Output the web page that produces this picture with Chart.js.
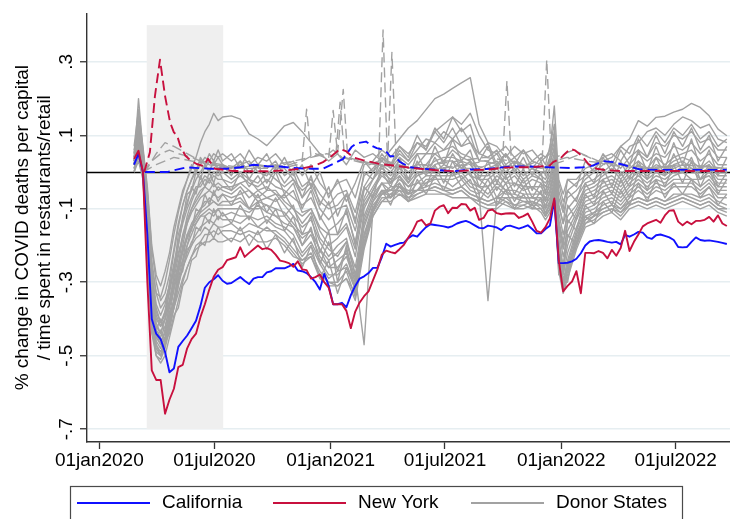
<!DOCTYPE html>
<html>
<head>
<meta charset="utf-8">
<script src="https://cdn.jsdelivr.net/npm/chart.js@4.4.1/dist/chart.umd.min.js"></script>
<style>
  html, body { margin: 0; padding: 0; background: #ffffff; }
  #wrap { width: 730px; height: 519px; }
</style>
</head>
<body>
<div id="wrap"><canvas id="chart" width="730" height="519"></canvas></div>
<script>
// ---------------------------------------------------------------
// Data: % change in COVID deaths per capita and time spent in
// restaurants/retail, California and New York vs. donor states.
// All x values are days since 01jan2020.
// ---------------------------------------------------------------

const californiaName = 'California';
const newYorkName = 'New York';
const donorName = 'Donor States';

// weekly series for the two treated states start on this date
const weeklyStart = '2020-02-25';

const californiaRetail = [
  0.02, 0.05, 0.0, -0.17, -0.40, -0.44, -0.455, -0.49, -0.545, -0.535,
  -0.476, -0.46, -0.445, -0.425, -0.405, -0.365, -0.315, -0.30, -0.292, -0.281,
  -0.296, -0.304, -0.302, -0.294, -0.286, -0.296, -0.305, -0.29, -0.286, -0.286,
  -0.273, -0.27, -0.262, -0.262, -0.262, -0.257, -0.25, -0.268, -0.27, -0.275,
  -0.286, -0.30, -0.32, -0.277, -0.31, -0.36, -0.36, -0.356, -0.368, -0.335,
  -0.31, -0.29, -0.284, -0.275, -0.261, -0.261, -0.232, -0.195, -0.203, -0.198,
  -0.194, -0.192, -0.18, -0.172, -0.176, -0.162, -0.15, -0.142, -0.144, -0.146,
  -0.148, -0.151, -0.147, -0.14, -0.136, -0.133, -0.138, -0.145, -0.152, -0.153,
  -0.146, -0.148, -0.151, -0.158, -0.148, -0.146, -0.15, -0.154, -0.15, -0.145,
  -0.155, -0.167, -0.167, -0.155, -0.146, -0.077, -0.248, -0.248, -0.247, -0.243,
  -0.236, -0.221, -0.2, -0.189, -0.186, -0.185, -0.187, -0.19, -0.192, -0.19,
  -0.197, -0.171, -0.176, -0.17, -0.163, -0.165, -0.178, -0.182, -0.172, -0.17,
  -0.174, -0.178, -0.185, -0.204, -0.205, -0.204, -0.19, -0.178, -0.185, -0.187,
  -0.186, -0.188, -0.19, -0.193, -0.196
];

const newYorkRetail = [
  0.036, 0.058, 0.0, -0.30, -0.54, -0.566, -0.566, -0.658, -0.62, -0.59,
  -0.531, -0.525, -0.48, -0.455, -0.44, -0.395, -0.36, -0.32, -0.285, -0.266,
  -0.259, -0.24, -0.236, -0.232, -0.205, -0.231, -0.22, -0.21, -0.2, -0.21,
  -0.207, -0.212, -0.225, -0.241, -0.244, -0.248, -0.258, -0.243, -0.265, -0.267,
  -0.29, -0.286, -0.279, -0.30, -0.315, -0.36, -0.36, -0.36, -0.378, -0.425,
  -0.38, -0.355, -0.338, -0.325, -0.295, -0.265, -0.225, -0.214, -0.218, -0.221,
  -0.21, -0.198, -0.178, -0.16, -0.135, -0.13, -0.145, -0.14, -0.105, -0.095,
  -0.09, -0.112, -0.097, -0.098, -0.087, -0.088, -0.105, -0.097, -0.13, -0.125,
  -0.105, -0.102, -0.112, -0.115, -0.113, -0.112, -0.113, -0.125, -0.12, -0.113,
  -0.135, -0.16, -0.165, -0.15, -0.126, -0.072, -0.24, -0.325, -0.31, -0.298,
  -0.27, -0.33, -0.22, -0.22, -0.221, -0.215, -0.22, -0.235, -0.212, -0.228,
  -0.207, -0.16, -0.215, -0.19, -0.17, -0.148, -0.14, -0.135, -0.13, -0.138,
  -0.118, -0.105, -0.104, -0.135, -0.145, -0.135, -0.142, -0.133, -0.133, -0.13,
  -0.122, -0.135, -0.118, -0.14, -0.147
];

// deaths per capita (dashed)
const californiaDeathDays = [
  72, 107, 138, 175, 202, 223, 244, 265, 286, 307,
  336, 354, 370, 386, 399, 407, 422, 431, 439, 449,
  455, 460, 468, 476, 492, 513, 539, 560, 587, 618,
  650, 681, 713, 745, 766, 782, 797, 813, 829, 845,
  856, 882, 993
];
const californiaDeaths = [
  0, 0, 0.013, 0.009, 0.009, 0.013, 0.02, 0.016, 0.015, 0.011,
  0.009, 0.009, 0.022, 0.036, 0.068, 0.078, 0.083, 0.072, 0.065, 0.061,
  0.054, 0.043, 0.043, 0.027, 0.013, 0.009, 0.005, 0.002, 0.007, 0.009,
  0.015, 0.015, 0.013, 0.011, 0.013, 0.018, 0.03, 0.027, 0.02, 0.012,
  0.007, 0.006, 0.006
];

const newYorkDeathDays = [
  71, 80, 88, 96, 104, 112, 118, 123, 128, 136,
  144, 154, 165, 172, 183, 212, 238, 265, 297, 318,
  339, 354, 365, 381, 391, 402, 418, 444, 465, 486,
  507, 534, 566, 587, 618, 639, 660, 681, 703, 713,
  718, 729, 734, 745, 753, 763, 774, 787, 803, 824,
  993
];
const newYorkDeaths = [
  0, 0.054, 0.207, 0.306, 0.207, 0.135, 0.108, 0.1, 0.072, 0.045,
  0.032, 0.022, 0.016, 0.036, 0.009, 0.003, 0.002, 0.002, 0.005, 0.009,
  0.016, 0.027, 0.04, 0.063, 0.056, 0.04, 0.032, 0.022, 0.018, 0.013,
  0.009, 0.005, 0.002, 0.005, 0.007, 0.012, 0.013, 0.013, 0.016, 0.018,
  0.027, 0.036, 0.045, 0.063, 0.059, 0.045, 0.022, 0.009, 0.005, 0.003,
  0.003
];

// donor-state retail series share one date grid:
// [first date, step in days, number of points]
const donorDateSegments = [
  ['2020-02-25', 7, 21],
  ['2020-07-28', 14, 36],
  ['2021-12-07', 7, 6],
  ['2022-01-25', 14, 18]
];

const donorRetail = [
  [0.05, 0.14, 0.04, -0.08, -0.26, -0.33, -0.34, -0.30, -0.24, -0.17, -0.11, -0.06, -0.02, 0.01, 0.04, 0.08, 0.11, 0.13, 0.16, 0.14, 0.15,
   0.153, 0.144, 0.104, 0.09, 0.072, 0.099, 0.126, 0.135, 0.11, 0.08, 0.05, 0.03, 0.05, 0.02, 0.06, 0.04, 0.05, 0.03, 0.06, 0.09, 0.12, 0.14, 0.17, 0.2, 0.212, 0.228, 0.243, 0.257, 0.13, 0.08, 0.07, 0.04, 0.07, 0.05, 0.06, 0.03,
   0.04, 0.05, 0.11, -0.03, -0.08, -0.05,
   -0.03, -0.01, 0.01, 0.03, 0.04, 0.07, 0.09, 0.14, 0.125, 0.149, 0.152, 0.163, 0.171, 0.187, 0.176, 0.153, 0.117, 0.099],
  [0.03, 0.20, 0.06, -0.05, -0.21, -0.30, -0.35, -0.33, -0.28, -0.21, -0.14, -0.09, -0.05, -0.02, 0.01, 0.02, 0.04, 0.03, 0.05, 0.04, 0.05,
   0.03, 0.05, 0.02, 0.04, 0.03, 0.05, 0.02, 0.03, -0.01, 0.02, -0.03, -0.06, -0.03, -0.02, -0.07, 0.02, 0.03, 0.06, 0.04, 0.07, 0.05, 0.08, 0.07, 0.11, 0.13, 0.15, 0.13, 0.16, 0.1, 0.06, 0.05, 0.07, 0.04, 0.06, 0.03, 0.05,
   0.04, 0.06, 0.18, -0.02, -0.06, -0.02,
   -0.02, 0.01, 0.02, 0.04, 0.05, 0.03, 0.07, 0.08, 0.11, 0.12, 0.1, 0.13, 0.15, 0.14, 0.12, 0.13, 0.09, 0.08],
  [0.02, 0.10, 0.03, -0.12, -0.30, -0.40, -0.42, -0.38, -0.30, -0.22, -0.15, -0.09, -0.05, -0.02, 0.0, 0.02, 0.01, 0.03, 0.02, 0.04, 0.02,
   0.01, 0.03, 0.0, 0.02, 0.01, 0.03, -0.01, 0.01, -0.04, -0.02, -0.06, -0.09, -0.06, -0.05, -0.11, -0.01, 0.01, 0.04, 0.02, 0.05, 0.03, 0.06, 0.09, 0.08, 0.11, 0.09, 0.12, 0.08, 0.05, 0.04, 0.06, 0.02, 0.04, 0.01, 0.03, 0.02,
   0.01, 0.04, 0.08, -0.07, -0.11, -0.07,
   -0.05, -0.02, 0.0, 0.02, 0.03, 0.01, 0.04, 0.06, 0.04, 0.08, 0.07, 0.1, 0.09, 0.11, 0.08, 0.09, 0.06, 0.06],
  [0.04, 0.07, 0.01, -0.15, -0.35, -0.44, -0.47, -0.43, -0.36, -0.28, -0.20, -0.13, -0.08, -0.05, -0.02, 0.0, 0.02, 0.0, 0.03, 0.01, 0.02,
   0.0, 0.02, 0.03, 0.0, -0.01, 0.02, 0.01, -0.02, -0.05, -0.03, -0.08, -0.1, -0.09, -0.06, -0.13, -0.04, 0.0, 0.03, 0.01, 0.04, 0.02, 0.05, 0.05, 0.08, 0.06, 0.09, 0.07, 0.08, 0.03, 0.03, 0.05, 0.01, 0.03, 0.02, 0.01, 0.0,
   0.0, 0.03, 0.06, -0.09, -0.14, -0.1,
   -0.07, -0.03, -0.02, 0.0, 0.02, -0.01, 0.02, 0.05, 0.03, 0.05, 0.04, 0.07, 0.06, 0.08, 0.05, 0.07, 0.04, 0.04],
  [0.01, 0.06, 0.02, -0.18, -0.38, -0.46, -0.48, -0.45, -0.39, -0.32, -0.25, -0.18, -0.12, -0.08, -0.05, -0.03, -0.01, -0.02, 0.0, -0.01, 0.0,
   -0.02, 0.0, -0.02, -0.03, 0.0, -0.02, -0.04, -0.02, -0.07, -0.04, -0.1, -0.13, -0.1, -0.09, -0.16, -0.05, -0.02, 0.02, 0.0, 0.03, 0.01, 0.02, 0.05, 0.05, 0.06, 0.07, 0.05, 0.04, 0.01, 0.02, 0.03, 0.0, 0.02, -0.01, 0.01, -0.01,
   -0.02, 0.01, 0.05, -0.11, -0.17, -0.12,
   -0.09, -0.04, -0.03, -0.01, 0.01, -0.02, 0.01, 0.03, 0.01, 0.04, 0.02, 0.04, 0.05, 0.06, 0.03, 0.05, 0.02, 0.02],
  [0.03, 0.11, 0.04, -0.10, -0.27, -0.36, -0.39, -0.36, -0.31, -0.25, -0.19, -0.14, -0.10, -0.07, -0.04, -0.04, -0.02, -0.03, -0.01, -0.02, -0.02,
   -0.03, -0.01, -0.03, -0.04, -0.02, -0.04, -0.05, -0.07, -0.09, -0.07, -0.12, -0.16, -0.14, -0.11, -0.19, -0.07, -0.02, 0.01, -0.01, 0.02, 0.0, 0.02, 0.02, 0.05, 0.03, 0.06, 0.04, 0.03, 0.0, 0.01, 0.02, -0.01, 0.01, -0.02, 0.0, -0.02,
   -0.03, -0.01, 0.04, -0.13, -0.19, -0.14,
   -0.1, -0.05, -0.04, -0.02, -0.01, -0.03, 0.0, 0.02, 0.0, 0.02, 0.01, 0.03, 0.04, 0.03, 0.01, 0.03, 0.0, 0.0],
  [0.02, 0.08, 0.0, -0.20, -0.40, -0.47, -0.50, -0.47, -0.42, -0.35, -0.28, -0.20, -0.14, -0.10, -0.07, -0.05, -0.04, -0.02, -0.04, -0.03, -0.04,
   -0.04, -0.03, -0.02, -0.05, -0.04, -0.06, -0.07, -0.05, -0.11, -0.1, -0.15, -0.17, -0.17, -0.14, -0.21, -0.08, -0.04, 0.0, -0.02, 0.01, -0.02, 0.01, 0.01, 0.03, 0.04, 0.04, 0.03, 0.02, -0.01, -0.01, 0.01, -0.02, 0.0, -0.03, -0.01, -0.02,
   -0.04, -0.02, 0.02, -0.15, -0.21, -0.16,
   -0.11, -0.06, -0.05, -0.03, -0.02, -0.04, -0.01, 0.01, -0.01, 0.01, 0.0, 0.02, 0.03, 0.01, 0.01, 0.02, -0.01, -0.01],
  [0.0, 0.05, 0.01, -0.14, -0.33, -0.42, -0.44, -0.40, -0.35, -0.29, -0.23, -0.17, -0.13, -0.10, -0.08, -0.06, -0.04, -0.05, -0.03, -0.05, -0.04,
   -0.05, -0.03, -0.05, -0.07, -0.05, -0.05, -0.08, -0.1, -0.12, -0.1, -0.16, -0.2, -0.18, -0.15, -0.23, -0.09, -0.05, -0.01, -0.03, 0.0, -0.03, 0.0, 0.0, 0.02, 0.03, 0.03, 0.01, 0.01, -0.02, -0.02, 0.0, -0.03, -0.01, -0.04, -0.02, -0.03,
   -0.05, -0.03, 0.01, -0.16, -0.23, -0.18,
   -0.12, -0.07, -0.06, -0.04, -0.03, -0.05, -0.02, 0.0, -0.02, 0.0, -0.01, 0.01, 0.02, 0.0, 0.0, 0.01, -0.02, -0.02],
  [0.05, 0.16, 0.06, -0.06, -0.24, -0.33, -0.37, -0.35, -0.31, -0.27, -0.22, -0.18, -0.14, -0.11, -0.09, -0.07, -0.06, -0.05, -0.06, -0.04, -0.05,
   -0.06, -0.04, -0.07, -0.05, -0.07, -0.08, -0.06, -0.1, -0.14, -0.11, -0.18, -0.21, -0.23, -0.19, -0.26, -0.12, -0.06, -0.03, -0.03, -0.01, -0.04, -0.01, 0.0, 0.0, 0.02, 0.01, 0.03, -0.01, -0.02, -0.04, -0.01, -0.03, -0.03, -0.04, -0.04, -0.04,
   -0.06, -0.04, 0.0, -0.18, -0.26, -0.2,
   -0.13, -0.08, -0.07, -0.05, -0.04, -0.06, -0.03, -0.01, -0.03, -0.01, -0.02, 0.0, 0.0, 0.01, -0.02, 0.0, -0.03, -0.03],
  [0.01, 0.04, -0.01, -0.22, -0.42, -0.50, -0.51, -0.48, -0.43, -0.37, -0.31, -0.25, -0.20, -0.15, -0.12, -0.10, -0.08, -0.08, -0.06, -0.07, -0.06,
   -0.07, -0.06, -0.05, -0.08, -0.07, -0.06, -0.09, -0.12, -0.15, -0.13, -0.19, -0.23, -0.2, -0.18, -0.28, -0.13, -0.07, -0.03, -0.05, -0.02, -0.04, -0.03, -0.01, -0.01, 0.01, -0.01, 0.02, -0.01, -0.04, -0.04, -0.02, -0.05, -0.03, -0.05, -0.04, -0.06,
   -0.07, -0.05, -0.01, -0.2, -0.28, -0.22,
   -0.15, -0.09, -0.08, -0.06, -0.05, -0.07, -0.04, -0.02, -0.04, -0.02, -0.03, -0.01, 0.0, -0.02, -0.02, -0.01, -0.04, -0.04],
  [0.02, 0.09, 0.03, -0.13, -0.30, -0.39, -0.42, -0.40, -0.36, -0.31, -0.26, -0.21, -0.17, -0.14, -0.12, -0.10, -0.09, -0.07, -0.08, -0.09, -0.08,
   -0.08, -0.07, -0.1, -0.08, -0.09, -0.1, -0.11, -0.14, -0.17, -0.16, -0.21, -0.26, -0.24, -0.22, -0.3, -0.15, -0.08, -0.05, -0.05, -0.03, -0.06, -0.03, -0.03, -0.01, -0.01, -0.01, 0.0, -0.03, -0.04, -0.06, -0.03, -0.05, -0.05, -0.06, -0.06, -0.06,
   -0.08, -0.06, -0.02, -0.21, -0.3, -0.24,
   -0.16, -0.1, -0.09, -0.07, -0.06, -0.08, -0.05, -0.03, -0.05, -0.03, -0.04, -0.02, -0.02, -0.02, -0.04, -0.02, -0.05, -0.05],
  [0.03, 0.07, 0.02, -0.17, -0.36, -0.43, -0.45, -0.42, -0.37, -0.32, -0.27, -0.22, -0.18, -0.15, -0.13, -0.11, -0.10, -0.09, -0.08, -0.09, -0.09,
   -0.09, -0.08, -0.1, -0.1, -0.09, -0.12, -0.12, -0.15, -0.18, -0.16, -0.21, -0.24, -0.22, -0.19, -0.28, -0.47, -0.1, -0.05, -0.07, -0.04, -0.06, -0.05, -0.03, -0.02, -0.02, -0.02, -0.01, -0.04, -0.05, -0.07, -0.04, -0.06, -0.06, -0.07, -0.07, -0.07,
   -0.09, -0.07, -0.03, -0.23, -0.32, -0.25,
   -0.17, -0.11, -0.1, -0.08, -0.07, -0.09, -0.06, -0.04, -0.06, -0.04, -0.05, -0.03, -0.03, -0.03, -0.05, -0.03, -0.06, -0.06],
  [0.0, 0.06, 0.01, -0.19, -0.39, -0.47, -0.49, -0.46, -0.41, -0.35, -0.29, -0.24, -0.20, -0.17, -0.14, -0.12, -0.11, -0.10, -0.11, -0.10, -0.10,
   -0.1, -0.1, -0.11, -0.09, -0.11, -0.12, -0.14, -0.15, -0.2, -0.17, -0.23, -0.26, -0.26, -0.23, -0.3, -0.17, -0.09, -0.06, -0.04, -0.04, -0.05, -0.05, -0.02, -0.02, -0.02, -0.04, -0.02, -0.05, -0.06, -0.35, -0.07, -0.05, -0.07, -0.07, -0.07, -0.08,
   -0.1, -0.08, -0.04, -0.24, -0.3, -0.26,
   -0.18, -0.12, -0.11, -0.09, -0.08, -0.1, -0.07, -0.05, -0.07, -0.05, -0.06, -0.04, -0.04, -0.04, -0.06, -0.04, -0.07, -0.07],
  [0.04, 0.12, 0.05, -0.11, -0.29, -0.38, -0.41, -0.39, -0.35, -0.30, -0.25, -0.21, -0.18, -0.15, -0.14, -0.12, -0.12, -0.11, -0.12, -0.10, -0.12,
   -0.11, -0.12, -0.12, -0.13, -0.12, -0.14, -0.15, -0.17, -0.22, -0.19, -0.24, -0.28, -0.28, -0.25, -0.31, -0.18, -0.1, -0.06, -0.06, -0.04, -0.07, -0.05, -0.04, -0.03, -0.04, -0.05, -0.04, -0.06, -0.07, -0.08, -0.07, -0.07, -0.07, -0.08, -0.08, -0.09,
   -0.11, -0.09, -0.05, -0.25, -0.31, -0.27,
   -0.19, -0.13, -0.12, -0.1, -0.09, -0.11, -0.08, -0.07, -0.08, -0.07, -0.08, -0.06, -0.06, -0.06, -0.07, -0.06, -0.08, -0.09],
  [0.01, 0.05, 0.0, -0.21, -0.41, -0.48, -0.50, -0.47, -0.42, -0.37, -0.31, -0.26, -0.22, -0.19, -0.17, -0.15, -0.14, -0.13, -0.14, -0.12, -0.13,
   -0.13, -0.14, -0.12, -0.15, -0.13, -0.15, -0.16, -0.19, -0.23, -0.2, -0.25, -0.29, -0.27, -0.26, -0.32, -0.19, -0.11, -0.07, -0.07, -0.05, -0.08, -0.06, -0.05, -0.04, -0.05, -0.06, -0.05, -0.07, -0.08, -0.09, -0.09, -0.07, -0.09, -0.09, -0.08, -0.1,
   -0.12, -0.1, -0.06, -0.26, -0.32, -0.28,
   -0.2, -0.14, -0.13, -0.11, -0.1, -0.12, -0.09, -0.08, -0.09, -0.08, -0.09, -0.08, -0.07, -0.08, -0.09, -0.08, -0.1, -0.11],
  [0.02, 0.10, 0.02, -0.16, -0.35, -0.44, -0.46, -0.44, -0.40, -0.35, -0.30, -0.26, -0.23, -0.20, -0.18, -0.17, -0.15, -0.16, -0.14, -0.15, -0.15,
   -0.14, -0.16, -0.14, -0.15, -0.16, -0.16, -0.18, -0.21, -0.24, -0.22, -0.27, -0.3, -0.3, -0.27, -0.34, -0.2, -0.12, -0.08, -0.08, -0.06, -0.08, -0.07, -0.06, -0.06, -0.06, -0.07, -0.07, -0.07, -0.09, -0.1, -0.1, -0.08, -0.1, -0.1, -0.09, -0.11,
   -0.13, -0.11, -0.07, -0.27, -0.33, -0.29,
   -0.21, -0.15, -0.14, -0.12, -0.11, -0.13, -0.1, -0.09, -0.1, -0.09, -0.1, -0.09, -0.08, -0.09, -0.1, -0.09, -0.11, -0.12],
  [0.0, 0.03, -0.02, -0.23, -0.44, -0.50, -0.52, -0.50, -0.45, -0.40, -0.35, -0.30, -0.26, -0.23, -0.20, -0.19, -0.17, -0.17, -0.16, -0.17, -0.16,
   -0.16, -0.17, -0.16, -0.17, -0.15, -0.17, -0.19, -0.22, -0.25, -0.23, -0.29, -0.31, -0.31, -0.29, -0.35, -0.21, -0.12, -0.08, -0.06, -0.06, -0.07, -0.06, -0.05, -0.05, -0.06, -0.06, -0.05, -0.07, -0.08, -0.09, -0.08, -0.09, -0.1, -0.09, -0.1, -0.1,
   -0.12, -0.1, -0.06, -0.25, -0.3, -0.27,
   -0.2, -0.14, -0.12, -0.11, -0.1, -0.11, -0.09, -0.08, -0.09, -0.08, -0.09, -0.08, -0.07, -0.08, -0.09, -0.08, -0.1, -0.1],
  [0.03, 0.08, 0.01, -0.18, -0.38, -0.45, -0.47, -0.45, -0.41, -0.37, -0.33, -0.29, -0.26, -0.23, -0.21, -0.20, -0.19, -0.19, -0.18, -0.19, -0.19,
   -0.18, -0.19, -0.17, -0.19, -0.19, -0.18, -0.2, -0.23, -0.24, -0.23, -0.28, -0.3, -0.31, -0.29, -0.33, -0.2, -0.1, -0.06, -0.05, -0.05, -0.06, -0.05, -0.05, -0.04, -0.05, -0.05, -0.04, -0.06, -0.07, -0.08, -0.07, -0.08, -0.09, -0.08, -0.09, -0.09,
   -0.11, -0.09, -0.05, -0.23, -0.29, -0.26,
   -0.19, -0.13, -0.11, -0.1, -0.09, -0.1, -0.08, -0.07, -0.08, -0.07, -0.08, -0.07, -0.06, -0.07, -0.08, -0.07, -0.09, -0.1],
  [0.06, 0.13, 0.05, -0.09, -0.28, -0.37, -0.41, -0.38, -0.33, -0.26, -0.2, -0.12, -0.09, -0.04, -0.06, -0.01, -0.04, 0.0, -0.03, 0.01, -0.02,
   -0.05, 0.0, -0.04, -0.01, -0.05, 0.0, -0.06, -0.03, -0.1, -0.05, -0.13, -0.08, -0.17, -0.1, -0.2, -0.04, -0.07, 0.02, -0.03, 0.04, -0.02, 0.05, 0.0, 0.07, 0.02, 0.09, 0.03, 0.06, -0.02, 0.03, -0.03, 0.02, -0.04, 0.01, -0.05, 0.0,
   -0.06, 0.02, 0.07, -0.14, -0.2, -0.09,
   -0.13, -0.03, -0.07, 0.01, -0.04, 0.03, -0.02, 0.06, 0.0, 0.07, 0.01, 0.08, 0.02, 0.09, 0.01, 0.06, -0.01, 0.04],
  [0.02, 0.09, 0.0, -0.2, -0.37, -0.43, -0.4, -0.44, -0.38, -0.36, -0.29, -0.27, -0.21, -0.2, -0.15, -0.16, -0.12, -0.14, -0.1, -0.13, -0.11,
   -0.14, -0.09, -0.13, -0.08, -0.14, -0.1, -0.16, -0.12, -0.2, -0.15, -0.25, -0.19, -0.27, -0.21, -0.29, -0.14, -0.08, -0.03, -0.07, -0.01, -0.06, 0.0, -0.04, 0.02, -0.03, 0.03, -0.02, 0.0, -0.06, -0.02, -0.07, -0.03, -0.08, -0.04, -0.09, -0.05,
   -0.1, -0.05, 0.0, -0.21, -0.27, -0.17,
   -0.2, -0.09, -0.12, -0.05, -0.09, -0.02, -0.07, 0.0, -0.05, 0.01, -0.04, 0.02, -0.03, 0.03, -0.04, 0.01, -0.06, -0.02],
  [0.03, 0.1, 0.02, -0.14, -0.31, -0.41, -0.44, -0.4, -0.32, -0.27, -0.17, -0.13, -0.06, -0.05, 0.0, -0.02, 0.02, 0.0, 0.03, 0.0, 0.02,
   -0.01, 0.03, -0.02, 0.02, -0.03, 0.01, -0.03, 0.0, -0.07, -0.01, -0.09, -0.04, -0.12, -0.06, -0.14, 0.0, -0.02, 0.04, 0.01, 0.06, 0.03, 0.08, 0.06, 0.12, 0.09, 0.15, 0.11, 0.13, 0.05, 0.08, 0.02, 0.05, 0.0, 0.04, -0.01, 0.03,
   -0.01, 0.04, 0.1, -0.09, -0.14, -0.05,
   -0.08, 0.0, -0.03, 0.04, 0.0, 0.06, 0.02, 0.09, 0.04, 0.1, 0.05, 0.11, 0.07, 0.12, 0.06, 0.1, 0.03, 0.07],
  [0.0, 0.05, -0.01, -0.24, -0.42, -0.49, -0.5, -0.46, -0.44, -0.39, -0.37, -0.31, -0.29, -0.24, -0.23, -0.19, -0.2, -0.16, -0.18, -0.15, -0.17,
   -0.19, -0.15, -0.2, -0.16, -0.21, -0.17, -0.22, -0.18, -0.26, -0.2, -0.29, -0.24, -0.33, -0.26, -0.31, -0.17, -0.11, -0.05, -0.09, -0.03, -0.08, -0.02, -0.06, -0.01, -0.05, 0.0, -0.04, -0.02, -0.08, -0.04, -0.09, -0.05, -0.1, -0.06, -0.1, -0.07,
   -0.12, -0.08, -0.03, -0.28, -0.24, -0.3,
   -0.17, -0.12, -0.14, -0.08, -0.11, -0.05, -0.09, -0.03, -0.08, -0.02, -0.07, -0.03, -0.06, -0.02, -0.07, -0.04, -0.09, -0.06],
  [0.07, 0.17, 0.07, -0.04, -0.2, -0.28, -0.31, -0.27, -0.22, -0.15, -0.1, -0.05, -0.02, 0.02, 0.0, 0.04, 0.02, 0.05, 0.03, 0.06, 0.03,
   0.05, 0.01, 0.06, 0.02, 0.05, 0.0, 0.04, -0.01, 0.02, -0.04, 0.0, -0.07, -0.02, -0.08, -0.03, 0.03, 0.0, 0.05, 0.02, 0.07, 0.04, 0.1, 0.06, 0.11, 0.08, 0.12, 0.07, 0.1, 0.03, 0.07, 0.01, 0.05, 0.02, 0.06, 0.01, 0.04,
   0.02, 0.07, 0.13, -0.05, -0.1, -0.02,
   -0.04, 0.03, 0.0, 0.05, 0.02, 0.07, 0.05, 0.1, 0.07, 0.11, 0.08, 0.12, 0.1, 0.13, 0.09, 0.11, 0.07, 0.09],
  [0.04, 0.11, 0.03, -0.16, -0.34, -0.45, -0.43, -0.46, -0.39, -0.35, -0.27, -0.24, -0.17, -0.16, -0.1, -0.11, -0.06, -0.09, -0.05, -0.08, -0.06,
   -0.09, -0.05, -0.1, -0.06, -0.11, -0.07, -0.12, -0.09, -0.17, -0.12, -0.22, -0.16, -0.3, -0.2, -0.33, -0.1, -0.05, 0.0, -0.04, 0.02, -0.03, 0.03, -0.01, 0.04, 0.0, 0.05, 0.01, 0.03, -0.04, 0.0, -0.05, -0.01, -0.06, -0.02, -0.07, -0.03,
   -0.08, -0.02, 0.03, -0.19, -0.26, -0.13,
   -0.16, -0.06, -0.09, -0.02, -0.06, 0.0, -0.04, 0.03, -0.02, 0.04, -0.01, 0.05, 0.0, 0.04, -0.02, 0.02, -0.04, 0.0]
];

// donor-state deaths per capita (dashed)
const donorDeathDays = [
  [69, 76, 90, 104, 118, 139, 160, 195, 230, 265, 300, 321, 342, 356, 370, 384, 405, 428, 442, 449,
   456, 470, 500, 540, 580, 620, 660, 700, 720, 740, 770, 820, 880, 940, 993],
  [69, 83, 97, 111, 125, 146, 174, 209, 244, 279, 307, 335, 360, 374, 381, 388, 409, 437, 456, 463,
   470, 498, 540, 580, 610, 631, 638, 645, 652, 666, 700, 734, 762, 800, 860, 920, 993],
  [69, 90, 118, 146, 181, 216, 251, 286, 314, 321, 328, 335, 349, 363, 370, 377, 386, 393, 414, 442,
   484, 526, 568, 610, 652, 680, 694, 701, 708, 715, 722, 750, 790, 830, 880, 930, 993]
];
const donorDeaths = [
  [0.0, 0.01, 0.05, 0.08, 0.07, 0.05, 0.03, 0.02, 0.01, 0.01, 0.02, 0.03, 0.05, 0.04, 0.06, 0.04, 0.03, 0.02, 0.03, 0.387,
   0.03, 0.02, 0.01, 0.01, 0.02, 0.01, 0.02, 0.01, 0.03, 0.04, 0.03, 0.02, 0.01, 0.01, 0.01],
  [0.0, 0.03, 0.05, 0.06, 0.05, 0.04, 0.02, 0.01, 0.01, 0.02, 0.03, 0.04, 0.05, 0.04, 0.19, 0.04, 0.03, 0.02, 0.02, 0.326,
   0.02, 0.01, 0.01, 0.02, 0.03, 0.02, 0.03, 0.248, 0.03, 0.02, 0.01, 0.03, 0.05, 0.02, 0.01, 0.02, 0.01],
  [0.0, 0.02, 0.04, 0.03, 0.02, 0.01, 0.02, 0.01, 0.02, 0.03, 0.171, 0.04, 0.05, 0.04, 0.168, 0.05, 0.225, 0.04, 0.03, 0.02,
   0.01, 0.02, 0.03, 0.04, 0.03, 0.02, 0.03, 0.04, 0.306, 0.05, 0.04, 0.06, 0.03, 0.02, 0.01, 0.02, 0.01]
];

// axis ticks and the shaded stay-at-home period
const xTickDates = ['2020-01-01', '2020-07-01', '2021-01-01', '2021-07-01', '2022-01-01', '2022-07-01'];
const yTickValues = [-0.7, -0.5, -0.3, -0.1, 0.1, 0.3];
const shadeDates = ['2020-03-16', '2020-07-15'];
const shadeValues = [-0.7, 0.4];

const yTitle = ['% change in COVID deaths per capital', '/ time spent in restaurants/retail'];

// ---------------------------------------------------------------
// helpers
// ---------------------------------------------------------------
const DAY_MS = 86400000;
const EPOCH = Date.UTC(2020, 0, 1);
const MONTHS = ['jan', 'feb', 'mar', 'apr', 'may', 'jun', 'jul', 'aug', 'sep', 'oct', 'nov', 'dec'];

function dayOf(iso) {
  const [y, m, d] = iso.split('-').map(Number);
  return Math.round((Date.UTC(y, m - 1, d) - EPOCH) / DAY_MS);
}
function stataDate(day) {
  const dt = new Date(EPOCH + day * DAY_MS);
  const dd = String(dt.getUTCDate()).padStart(2, '0');
  return dd + MONTHS[dt.getUTCMonth()] + dt.getUTCFullYear();
}
function stepDays(startIso, step, count) {
  const s = dayOf(startIso);
  return Array.from({ length: count }, (_, i) => s + i * step);
}
function points(days, values) {
  return values.map((v, i) => ({ x: days[i], y: v }));
}

const weeklyDays = stepDays(weeklyStart, 7, californiaRetail.length);
const donorDays = donorDateSegments.flatMap(([d, s, n]) => stepDays(d, s, n));
const xTickDays = xTickDates.map(dayOf);

// ---------------------------------------------------------------
// styling
// ---------------------------------------------------------------
const CA_BLUE = '#1010ff';
const NY_RED = '#c8103e';
const DONOR_GRAY = '#a2a2a2';
const FONT = "'Liberation Sans', Arial, Helvetica, sans-serif";
const DASH = [10, 5];

Chart.defaults.font.family = FONT;
Chart.defaults.font.size = 19;
Chart.defaults.color = '#000';

const datasets = [];
datasets.push({ label: newYorkName, data: points(weeklyDays, newYorkRetail),
  borderColor: NY_RED, borderWidth: 1.9 });
datasets.push({ label: californiaName, data: points(weeklyDays, californiaRetail),
  borderColor: CA_BLUE, borderWidth: 1.9 });
datasets.push({ label: newYorkName + ' deaths', data: points(newYorkDeathDays, newYorkDeaths),
  borderColor: NY_RED, borderWidth: 1.9, borderDash: DASH });
datasets.push({ label: californiaName + ' deaths', data: points(californiaDeathDays, californiaDeaths),
  borderColor: CA_BLUE, borderWidth: 1.9, borderDash: DASH });
donorDeaths.forEach((vals, i) => {
  datasets.push({ label: donorName, data: points(donorDeathDays[i], vals),
    borderColor: DONOR_GRAY, borderWidth: 1.4, borderDash: DASH });
});
donorRetail.forEach((vals) => {
  datasets.push({ label: donorName, data: points(donorDays, vals),
    borderColor: DONOR_GRAY, borderWidth: 1.4 });
});

// shaded period behind the lines
const periodShade = {
  id: 'periodShade',
  beforeDatasetsDraw(chart) {
    const { ctx, scales: { x, y } } = chart;
    const x0 = x.getPixelForValue(dayOf(shadeDates[0]));
    const x1 = x.getPixelForValue(dayOf(shadeDates[1]));
    const y0 = y.getPixelForValue(shadeValues[1]);
    const y1 = y.getPixelForValue(shadeValues[0]);
    ctx.save();
    ctx.fillStyle = '#efefef';
    ctx.fillRect(x0, y0, x1 - x0, y1 - y0);
    ctx.restore();
  }
};

// reference line at zero
const zeroLine = {
  id: 'zeroLine',
  beforeDatasetsDraw(chart) {
    const { ctx, chartArea, scales: { y } } = chart;
    const py = Math.round(y.getPixelForValue(0)) + 0.5;
    ctx.save();
    ctx.strokeStyle = '#000';
    ctx.lineWidth = 1.5;
    ctx.beginPath();
    ctx.moveTo(chartArea.left, py);
    ctx.lineTo(chartArea.right, py);
    ctx.stroke();
    ctx.restore();
  }
};

// boxed legend below the axis
const legendBox = {
  id: 'legendBox',
  afterDraw(chart) {
    const { ctx } = chart;
    const items = [
      { label: californiaName, color: CA_BLUE, x: 77 },
      { label: newYorkName, color: NY_RED, x: 273 },
      { label: donorName, color: DONOR_GRAY, x: 471 }
    ];
    const cy = 503;
    ctx.save();
    ctx.strokeStyle = '#4a4a4a';
    ctx.lineWidth = 1.2;
    ctx.strokeRect(70.5, 486.5, 612, 60);
    ctx.font = '19px ' + FONT;
    ctx.textBaseline = 'middle';
    ctx.textAlign = 'left';
    items.forEach((it) => {
      ctx.strokeStyle = it.color;
      ctx.lineWidth = 2;
      ctx.beginPath();
      ctx.moveTo(it.x, cy);
      ctx.lineTo(it.x + 73, cy);
      ctx.stroke();
      ctx.fillStyle = '#000';
      ctx.fillText(it.label, it.x + 85, cy);
    });
    ctx.restore();
  }
};

new Chart(document.getElementById('chart'), {
  type: 'line',
  data: { datasets },
  options: {
    responsive: false,
    animation: false,
    devicePixelRatio: 1,
    layout: { padding: { top: 10, left: 0, right: 0, bottom: 0 } },
    plugins: { legend: { display: false }, tooltip: { enabled: false } },
    elements: {
      point: { radius: 0 },
      line: { tension: 0, borderJoinStyle: 'round', borderCapStyle: 'butt', fill: false }
    },
    scales: {
      x: {
        type: 'linear',
        min: -19.5,
        max: 998,
        afterBuildTicks: (s) => { s.ticks = xTickDays.map((v) => ({ value: v })); },
        afterFit: (s) => { s.height = 77; },
        grid: { drawOnChartArea: false, drawTicks: true, tickLength: 7, tickColor: '#333', tickWidth: 1.3 },
        border: { display: true, color: '#333', width: 1.4 },
        ticks: {
          autoSkip: false, maxRotation: 0, minRotation: 0, padding: 0,
          color: '#000', font: { size: 19 },
          callback: (v) => stataDate(v)
        }
      },
      y: {
        type: 'linear',
        min: -0.735,
        max: 0.432,
        afterBuildTicks: (s) => { s.ticks = yTickValues.map((v) => ({ value: v })); },
        afterFit: (s) => { s.width = 87; },
        grid: { color: '#e6eef1', lineWidth: 1.5, drawTicks: true, tickLength: 7, tickColor: '#333', tickWidth: 1.3 },
        border: { display: true, color: '#333', width: 1.4 },
        ticks: {
          minRotation: 90, maxRotation: 90, crossAlign: 'center', padding: 2,
          color: '#000', font: { size: 19 },
          callback: (v) => (v < 0 ? '-' : '') + '.' + Math.round(Math.abs(v) * 10)
        },
        title: {
          display: true,
          text: yTitle,
          color: '#000',
          font: { size: 19, lineHeight: 1.2 },
          padding: { top: 11, bottom: 0 }
        }
      }
    }
  },
  plugins: [periodShade, zeroLine, legendBox]
});
</script>
</body>
</html>
